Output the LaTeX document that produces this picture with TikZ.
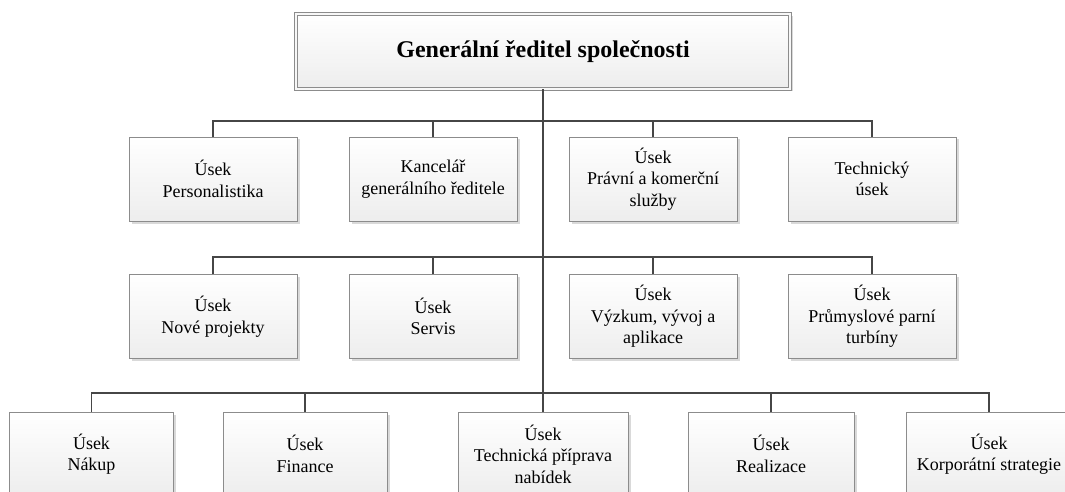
\documentclass[tikz,border=0pt]{standalone}
\usepackage{fontspec}
\setmainfont{Liberation Serif}
\usepackage{xcolor}
\usetikzlibrary{shadows}
\definecolor{linegray}{RGB}{70, 70, 70}
\definecolor{boxgray}{RGB}{140, 140, 140}

\begin{document}
\begin{tikzpicture}[x=1pt, y=-1pt,
    box/.style={draw=boxgray, line width=0.8pt, top color=white, bottom color=gray!14,
        minimum width=168pt, minimum height=84pt, align=center, inner sep=2pt,
        font=\fontsize{18}{21.5}\selectfont,
        drop shadow={shadow xshift=2.5pt, shadow yshift=-2.5pt, fill=gray, opacity=0.3}},
    conn/.style={draw=linegray, line width=1.8pt}]
    \useasboundingbox (0, 0) rectangle (1065, 492);
    \clip (0, 0) rectangle (1065, 492);

    % Sběrnice
    \coordinate (bus1) at (543, 121);
    \coordinate (bus2) at (543, 257);
    \coordinate (bus3) at (543, 393);

    % Vedení
    \node[box, double=gray!6, double distance=2pt, minimum width=494pt, minimum height=75pt,
        font=\bfseries\fontsize{24}{28}\selectfont] (gr) at (543, 51.5) {Generální ředitel společnosti};

    % První řada
    \node[box] (pers) at (213, 179) {Úsek\\Personalistika};
    \node[box] (kanc) at (433, 179) {Kancelář\\generálního ředitele};
    \node[box] (prav) at (653, 179) {Úsek\\Právní a komerční\\služby};
    \node[box] (tech) at (872, 179) {Technický\\úsek};

    % Druhá řada
    \node[box] (nove) at (213, 316.5) {Úsek\\Nové projekty};
    \node[box] (serv) at (433, 316.5) {Úsek\\Servis};
    \node[box] (vyzk) at (653, 316.5) {Úsek\\Výzkum, vývoj a\\aplikace};
    \node[box] (turb) at (872, 316.5) {Úsek\\Průmyslové parní\\turbíny};

    % Třetí řada
    \node[box, minimum width=164pt] (nakup) at (91.5, 454) {Úsek\\Nákup};
    \node[box, minimum width=164pt] (fin) at (305, 454) {Úsek\\Finance};
    \node[box, minimum width=170pt] (nab) at (543, 454) {Úsek\\Technická příprava\\nabídek};
    \node[box, minimum width=166pt] (real) at (771, 454) {Úsek\\Realizace};
    \node[box, minimum width=166pt] (korp) at (989, 454) {Úsek\\Korporátní strategie};

    % Spojnice
    \draw[conn] (gr.south) -- (bus3);
    \draw[conn] (pers.north) |- (bus1) -| (tech.north);
    \draw[conn] (kanc.north) -- (kanc.north |- bus1);
    \draw[conn] (prav.north) -- (prav.north |- bus1);
    \draw[conn] (nove.north) |- (bus2) -| (turb.north);
    \draw[conn] (serv.north) -- (serv.north |- bus2);
    \draw[conn] (vyzk.north) -- (vyzk.north |- bus2);
    \draw[conn] (nakup.north) |- (bus3) -| (korp.north);
    \draw[conn] (fin.north) -- (fin.north |- bus3);
    \draw[conn] (nab.north) -- (nab.north |- bus3);
    \draw[conn] (real.north) -- (real.north |- bus3);
\end{tikzpicture}
\end{document}
